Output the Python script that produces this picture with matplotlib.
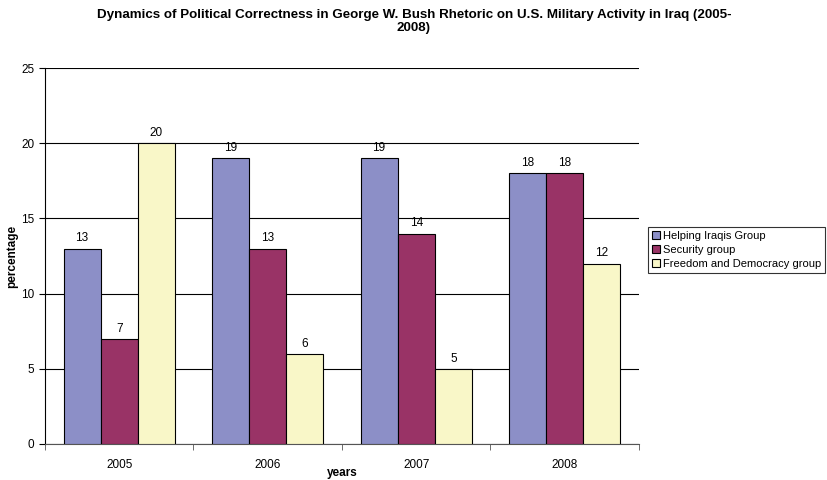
import numpy as np
import matplotlib
matplotlib.use('Agg')
import matplotlib.pyplot as plt

plt.rcParams['font.family'] = ['Liberation Sans', 'DejaVu Sans']

years = ['2005', '2006', '2007', '2008']
helping = [13, 19, 19, 18]
security = [7, 13, 14, 18]
freedom = [20, 6, 5, 12]

series = [
    ('Helping Iraqis Group', helping, '#8c8fc7'),
    ('Security group', security, '#993366'),
    ('Freedom and Democracy group', freedom, '#f9f7c8'),
]

fig = plt.figure(figsize=(8.28, 4.8), dpi=100)
ax = fig.add_axes([0.0543, 0.075, 0.7174, 0.783])

x = np.arange(len(years))
w = 0.25
for i, (name, vals, col) in enumerate(series):
    bars = ax.bar(x + (i - 1) * w, vals, w, color=col, edgecolor='black',
                  linewidth=0.8, label=name, zorder=3)
    for b, v in zip(bars, vals):
        ax.annotate(str(v), (b.get_x() + b.get_width() / 2, v),
                    xytext=(0, 3), textcoords='offset points',
                    ha='center', va='bottom', fontsize=8.5)

ax.set_xlim(-0.5, 3.5)
ax.set_ylim(0, 25)
ax.set_yticks(range(0, 26, 5))
ax.set_xticks(x)
ax.set_xticklabels(years)
ax.set_xticks(np.arange(-0.5, 4, 1), minor=True)
ax.tick_params(axis='x', which='major', length=0, labelsize=8.5, pad=11)
ax.tick_params(axis='x', which='minor', length=4, direction='out', color='#555555')
ax.tick_params(axis='y', length=4, direction='out', labelsize=8.5)
ax.grid(axis='y', color='black', linewidth=0.8, zorder=0)
ax.spines['top'].set_visible(False)
ax.spines['right'].set_visible(False)
ax.spines['bottom'].set_color('#555555')

# axis titles placed by hand so neither gets clipped
fig.text(12 / 828, 1 - 256 / 480, 'percentage', rotation=90, ha='center', va='center',
         fontsize=8.5, fontweight='bold')
fig.text(342 / 828, 1 / 480, 'years', ha='center', va='bottom',
         fontsize=8.5, fontweight='bold')

fig.text(0.5, 0.982,
         'Dynamics of Political Correctness in George W. Bush Rhetoric on U.S. Military Activity in Iraq (2005-\n2008)',
         ha='center', va='top', fontsize=9.6, fontweight='bold', linespacing=1.2)

leg = fig.legend(loc='upper left', bbox_to_anchor=(0.7826, 0.527), fontsize=8,
                 frameon=True, fancybox=False, edgecolor='black',
                 handlelength=0.7, handleheight=0.7, handletextpad=0.3,
                 borderpad=0.35, labelspacing=0.35, borderaxespad=0)
leg.get_frame().set_linewidth(0.8)

fig.savefig('out.png', dpi=100)
